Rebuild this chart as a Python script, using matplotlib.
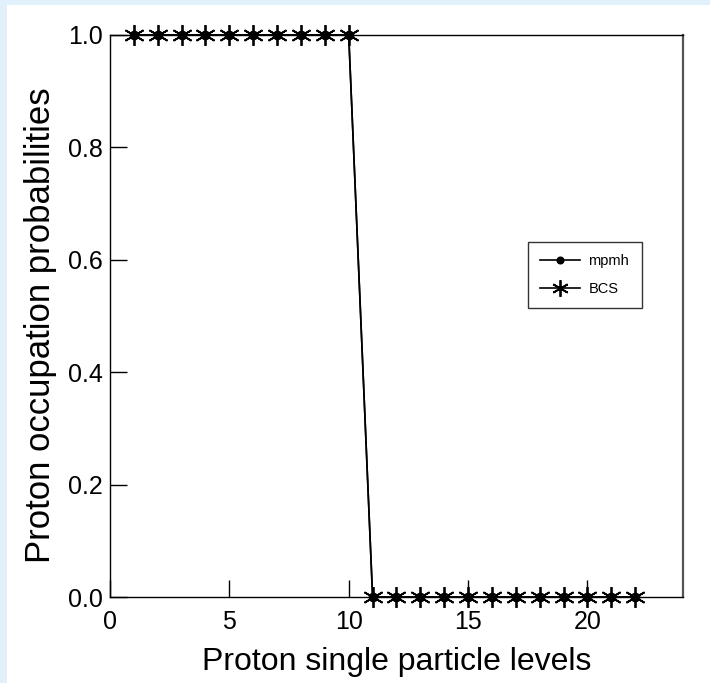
import matplotlib
matplotlib.use('Agg')
import matplotlib.pyplot as plt
from matplotlib.patches import Rectangle

plt.rcParams['font.family'] = ['Liberation Sans', 'DejaVu Sans']

# proton single particle levels and occupation probabilities
levels = list(range(1, 23))
mpmh = [1.0] * 10 + [0.0] * 12
bcs = [1.0] * 10 + [0.0] * 12

x_ticks = [0, 5, 10, 15, 20]
y_ticks = [0.0, 0.2, 0.4, 0.6, 0.8, 1.0]

fig = plt.figure(figsize=(7.10, 6.83), dpi=100)
fig.patch.set_facecolor('#e0f1fc')
# white sheet inside the blue margin
fig.patches.append(Rectangle((7 / 710, 0), 1, (683 - 5) / 683,
                             transform=fig.transFigure, facecolor='white',
                             edgecolor='none', zorder=-10))

ax = fig.add_axes([0.1549, 0.1259, 0.807, 0.8229])
ax.set_zorder(5)
ax.set_facecolor('white')

ax.plot(levels, mpmh, color='black', lw=1.2, marker='o', markersize=6,
        label='mpmh', clip_on=False, zorder=3)
ax.plot(levels, bcs, color='black', lw=1.2, marker=(6, 2, 0), markersize=15,
        markeredgewidth=1.3, label='BCS', clip_on=False, zorder=4)

ax.set_xlim(0, 24)
ax.set_ylim(0, 1.0)
ax.set_xticks(x_ticks)
ax.set_yticks(y_ticks)
ax.set_yticklabels([f'{v:.1f}' for v in y_ticks])

ax.tick_params(direction='in', length=12, width=1, labelsize=18,
               top=False, right=False)
ax.tick_params(axis='x', pad=9)
ax.tick_params(axis='y', pad=5)
for side in ['left', 'bottom', 'top']:
    ax.spines[side].set_color('black')
    ax.spines[side].set_linewidth(1)
ax.spines['right'].set_color('#555555')
ax.spines['right'].set_linewidth(1.6)

ax.set_xlabel('Proton single particle levels', fontsize=23, labelpad=10)
ax.set_ylabel('Proton occupation probabilities', fontsize=25)
ax.yaxis.set_label_coords(-0.093, 0.484)

leg = ax.legend(loc='upper left', bbox_to_anchor=(0.7295, 0.632),
                borderaxespad=0, fontsize=10.5, frameon=True, fancybox=False,
                edgecolor='black', handlelength=2.7, handletextpad=0.6,
                markerscale=0.8, borderpad=0.85, labelspacing=0.95)
leg.get_frame().set_linewidth(1)

fig.savefig('out.png', dpi=100, facecolor=fig.get_facecolor())
